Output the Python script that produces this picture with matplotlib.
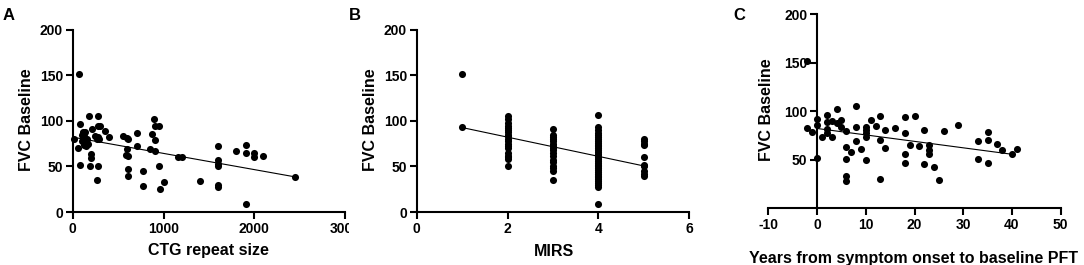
import numpy as np
import matplotlib
matplotlib.use('Agg')
import matplotlib.pyplot as plt
from matplotlib.transforms import Bbox

plt.rcParams['font.family'] = ['Liberation Sans', 'DejaVu Sans']
plt.rcParams['font.weight'] = 'bold'
plt.rcParams['axes.unicode_minus'] = False

# panel A: CTG repeat size vs FVC baseline
ctg = [10, 70, 62, 80, 80, 117, 100, 110, 120, 130, 140, 150, 115, 125, 145, 160, 135, 155,
       170, 100, 183, 191, 209, 202, 202, 250, 265, 280, 290, 282, 282, 300, 282, 271, 356,
       403, 550, 594, 605, 594, 587, 605, 605, 605, 704, 704, 771, 771, 870, 851, 899, 950,
       906, 906, 906, 950, 961, 1005, 1163, 1200, 1402, 1604, 1604, 1604, 1604, 1604, 1604,
       1798, 1905, 1905, 1905, 2000, 2000, 2099, 2448]
fvc_a = [80, 152, 70, 97, 52, 88, 85, 87, 83, 79, 77, 76, 78, 74, 73, 80, 88, 76,
         75, 78, 105, 50, 91, 64, 59, 84, 80, 82, 80, 106, 94, 94, 51, 35, 89,
         82, 83, 81, 80, 69, 63, 61, 47, 40, 87, 72, 45, 29, 86, 69, 102, 94,
         94, 79, 67, 50, 25, 33, 60, 60, 34, 72, 57, 53, 50, 30, 28,
         67, 74, 65, 9, 65, 60, 62, 38]
fit_a = (82.2, -0.0178)

# panel B: MIRS vs FVC baseline
mirs_cols = {
    1: [152, 93],
    2: [105, 102, 98, 95, 92, 90, 88, 85, 83, 80, 78, 75, 72, 70, 65, 62, 60, 58, 51],
    3: [91, 85, 82, 80, 78, 75, 72, 70, 68, 65, 62, 57, 55, 50, 48, 45, 35],
    4: [107, 93, 90, 87, 85, 82, 80, 78, 76, 74, 72, 70, 68, 66, 64, 62, 60, 58, 56, 54,
        52, 50, 48, 46, 44, 42, 40, 38, 36, 34, 32, 30, 28, 9],
    5: [80, 78, 75, 74, 60, 52, 50, 45, 42, 40],
}
fit_b = (103.35, -10.55)

# panel C: years from onset vs FVC baseline
years = [-2, -2, -1, 0, 0, 0, 1, 2, 2, 2, 2, 3, 3, 4, 4, 5, 5, 6, 6, 6, 6, 6, 7, 8, 8, 8,
         9, 10, 10, 10, 10, 10, 11, 12, 13, 13, 13, 14, 14, 16, 18, 18, 18, 18, 19, 20,
         21, 22, 22, 23, 23, 23, 24, 25, 26, 29, 33, 33, 35, 35, 35, 37, 38, 40, 41]
fvc_c = [152, 82, 78, 92, 86, 52, 73, 96, 89, 81, 77, 90, 73, 102, 88, 91, 83, 79, 63, 51,
         33, 28, 58, 105, 84, 69, 61, 84, 80, 77, 73, 49, 91, 85, 95, 70, 30, 80, 62, 82,
         94, 77, 56, 46, 65, 95, 64, 80, 45, 65, 60, 56, 42, 29, 79, 86, 69, 51, 78, 70,
         46, 66, 60, 56, 61]
fit_c = (82.0, -0.665)

fig = plt.figure(figsize=(10.84, 2.65), dpi=100)
axA = fig.add_axes([0.0671, 0.2, 0.2512, 0.6868])
axB = fig.add_axes([0.3844, 0.2, 0.2515, 0.6868])
axC = fig.add_axes([0.7088, 0.2151, 0.2697, 0.732])


def style(ax):
    for s in ['top', 'right']:
        ax.spines[s].set_visible(False)
    for s in ['left', 'bottom']:
        ax.spines[s].set_linewidth(1.5)
    ax.tick_params(direction='out', length=5, width=1.5, labelsize=10, pad=2)
    for lab in ax.get_xticklabels() + ax.get_yticklabels():
        lab.set_fontweight('bold')
    ax.xaxis.label.set_va('center')
    ax.yaxis.label.set_va('center')


dot = dict(s=26, color='black', clip_on=False, zorder=3, linewidths=0)
lab_kw = dict(fontsize=11.5, fontweight='bold')

# A
axA.scatter(ctg, fvc_a, **dot)
xa = np.array([min(ctg), max(ctg)])
axA.plot(xa, fit_a[0] + fit_a[1] * xa, color='black', lw=0.8)
axA.set_xlim(0, 3000)
axA.set_ylim(0, 200)
axA.set_xticks([0, 1000, 2000, 3000])
axA.set_yticks([0, 50, 100, 150, 200])
axA.set_xlabel('CTG repeat size', **lab_kw)
axA.set_ylabel('FVC Baseline', **lab_kw)
axA.xaxis.set_label_coords(0.497, -0.209)
axA.yaxis.set_label_coords(-0.168, 0.505)
style(axA)

# B
mx = [k for k, v in mirs_cols.items() for _ in v]
my = [y for v in mirs_cols.values() for y in v]
axB.scatter(mx, my, **dot)
xb = np.array([1, 5])
axB.plot(xb, fit_b[0] + fit_b[1] * xb, color='black', lw=0.8)
axB.set_xlim(0, 6)
axB.set_ylim(0, 200)
axB.set_xticks([0, 2, 4, 6])
axB.set_yticks([0, 50, 100, 150, 200])
axB.set_xlabel('MIRS', **lab_kw)
axB.set_ylabel('FVC Baseline', **lab_kw)
axB.xaxis.set_label_coords(0.505, -0.218)
axB.yaxis.set_label_coords(-0.171, 0.505)
style(axB)

# C
axC.scatter(years, fvc_c, **dot)
xc = np.array([0, 40.3])
axC.plot(xc, fit_c[0] + fit_c[1] * xc, color='black', lw=0.8)
axC.set_xlim(-10, 50)
axC.set_ylim(0, 200)
axC.spines['left'].set_position(('data', 0))
axC.set_xticks([-10, 0, 10, 20, 30, 40, 50])
axC.set_yticks([50, 100, 150, 200])
axC.set_xlabel('Years from symptom onset to baseline PFT', **lab_kw)
axC.set_ylabel('FVC Baseline', **lab_kw)
axC.xaxis.set_label_coords(0.498, -0.26)
axC.yaxis.set_label_coords(-0.005, 0.505)
style(axC)

# panel letters
for x, letter in [(9, 'A'), (355, 'B'), (739, 'C')]:
    fig.text(x / 1084, 1 - 16 / 265, letter, fontsize=12, fontweight='bold', ha='center', va='center')

# the last tick label of A is cut off by panel B in the original
fig.canvas.draw()
clip = Bbox.from_extents(0, 0, 349, 265)
for lab in axA.get_xticklabels():
    lab.set_clip_box(clip)
    lab.set_clip_on(True)

fig.savefig('out.png', dpi=100)
